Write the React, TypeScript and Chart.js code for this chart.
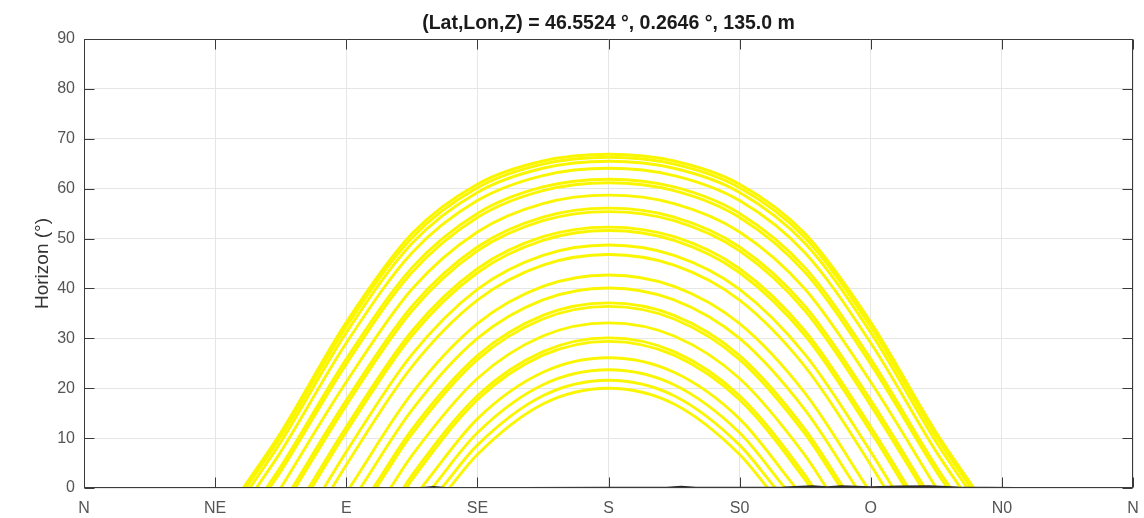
import React, { useEffect, useRef } from 'react';
import { Chart, registerables } from 'chart.js';

Chart.register(...registerables);

const TITLE = '(Lat,Lon,Z) = 46.5524 °, 0.2646 °, 135.0 m';
const Y_TITLE = 'Horizon (°)';
const X_TICK_LABELS = ['N', 'NE', 'E', 'SE', 'S', 'S0', 'O', 'N0', 'N'];

// azimuths (deg from North) at which altitudes are read
const AZIMUTH_GRID = [67.5, 90, 112.5, 135, 157.5, 180, 202.5, 225, 247.5, 270, 292.5];

// azimuth where each path meets the horizon (sunrise / sunset)
const SUNRISE_AZ = [54.66, 55.62, 56.91, 59.15, 62.6, 63.68, 67.51, 71.43, 72.48, 77.07, 78.1, 82.35, 85.13, 91.09, 94.87, 99.26, 100.28, 105.14, 109.62, 110.67, 115.7, 119.43, 122.76, 125.34];
const SUNSET_AZ = [305.34, 304.38, 303.09, 300.85, 297.4, 296.32, 292.49, 288.57, 287.52, 282.93, 281.9, 277.65, 274.87, 268.91, 265.13, 260.74, 259.72, 254.86, 250.38, 249.33, 244.3, 240.57, 237.24, 234.66];

// sun altitude (deg) at each AZIMUTH_GRID value, null = below horizon
const PATH_01 = [11.08, 33.22, 50.94, 60.89, 65.54, 66.89, 65.54, 60.89, 50.94, 33.22, 11.08];
const PATH_02 = [10.26, 32.33, 50.12, 60.19, 64.92, 66.3, 64.92, 60.19, 50.12, 32.33, 10.26];
const PATH_03 = [9.16, 31.14, 49.02, 59.25, 64.09, 65.5, 64.09, 59.25, 49.02, 31.14, 9.16];
const PATH_04 = [7.24, 29.06, 47.1, 57.61, 62.63, 64.1, 62.63, 57.61, 47.1, 29.06, 7.24];
const PATH_05 = [4.26, 25.84, 44.12, 55.04, 60.34, 61.9, 60.34, 55.04, 44.12, 25.84, 4.26];
const PATH_06 = [3.32, 24.83, 43.18, 54.23, 59.61, 61.2, 59.61, 54.23, 43.18, 24.83, 3.32];
const PATH_07 = [null, 21.24, 39.84, 51.33, 57.01, 58.7, 57.01, 51.33, 39.84, 21.24, null];
const PATH_08 = [null, 17.56, 36.4, 48.32, 54.31, 56.1, 54.31, 48.32, 36.4, 17.56, null];
const PATH_09 = [null, 16.57, 35.48, 47.52, 53.58, 55.4, 53.58, 47.52, 35.48, 16.57, null];
const PATH_10 = [null, 12.23, 31.42, 43.95, 50.37, 52.3, 50.37, 43.95, 31.42, 12.23, null];
const PATH_11 = [null, 11.26, 30.51, 43.15, 49.64, 51.6, 49.64, 43.15, 30.51, 11.26, null];
const PATH_12 = [null, 7.24, 26.73, 39.82, 46.63, 48.7, 46.63, 39.82, 26.73, 7.24, null];
const PATH_13 = [null, 4.62, 24.27, 37.64, 44.66, 46.8, 44.66, 37.64, 24.27, 4.62, null];
const PATH_14 = [null, null, 18.96, 32.95, 40.41, 42.7, 40.41, 32.95, 18.96, null, null];
const PATH_15 = [null, null, 15.59, 29.98, 37.72, 40.1, 37.72, 29.98, 15.59, null, null];
const PATH_16 = [null, null, 11.7, 26.54, 34.61, 37.1, 34.61, 26.54, 11.7, null, null];
const PATH_17 = [null, null, 10.78, 25.74, 33.88, 36.4, 33.88, 25.74, 10.78, null, null];
const PATH_18 = [null, null, 6.48, 21.94, 30.46, 33.1, 30.46, 21.94, 6.48, null, null];
const PATH_19 = [null, null, 2.53, 18.49, 27.34, 30.1, 27.34, 18.49, 2.53, null, null];
const PATH_20 = [null, null, 1.61, 17.68, 26.62, 29.4, 26.62, 17.68, 1.61, null, null];
const PATH_21 = [null, null, null, 13.86, 23.19, 26.1, 23.19, 13.86, null, null, null];
const PATH_22 = [null, null, null, 11.06, 20.69, 23.7, 20.69, 11.06, null, null, null];
const PATH_23 = [null, null, null, 8.6, 18.5, 21.6, 18.5, 8.6, null, null, null];
const PATH_24 = [null, null, null, 6.73, 16.84, 20.0, 16.84, 6.73, null, null, null];

const SUN_PATHS = [
  PATH_01, PATH_02, PATH_03, PATH_04, PATH_05, PATH_06, PATH_07, PATH_08,
  PATH_09, PATH_10, PATH_11, PATH_12, PATH_13, PATH_14, PATH_15, PATH_16,
  PATH_17, PATH_18, PATH_19, PATH_20, PATH_21, PATH_22, PATH_23, PATH_24,
];

// local horizon profile (deg)
const HORIZON_AZ = [0, 30, 60, 90, 115, 120, 125, 150, 180, 200, 205, 210, 240, 250, 255, 260, 270, 280, 290, 300, 330, 360];
const HORIZON_ALT = [0, 0, 0, 0, 0, 0.25, 0, 0.05, 0.1, 0.1, 0.3, 0.1, 0.15, 0.4, 0.2, 0.4, 0.2, 0.35, 0.4, 0.15, 0, 0];

const FONT = "'Liberation Sans', Arial, Helvetica, sans-serif";

const framePlugin = {
  id: 'framePlugin',
  afterDraw(chart: any) {
    const { ctx, chartArea: a, scales } = chart;
    ctx.save();
    ctx.strokeStyle = '#3a3a3a';
    ctx.lineWidth = 1;
    const L = Math.round(a.left) + 0.5;
    const R = Math.round(a.right) - 0.5;
    const T = Math.round(a.top) + 0.5;
    const B = Math.round(a.bottom) - 0.5;
    ctx.beginPath();
    ctx.rect(L, T, R - L, B - T);
    const tl = 10;
    scales.x.ticks.forEach((t: any) => {
      const px = Math.round(scales.x.getPixelForValue(t.value)) + 0.5;
      ctx.moveTo(px, B);
      ctx.lineTo(px, B - tl);
      ctx.moveTo(px, T);
      ctx.lineTo(px, T + tl);
    });
    scales.y.ticks.forEach((t: any) => {
      const py = Math.round(scales.y.getPixelForValue(t.value)) + 0.5;
      ctx.moveTo(L, py);
      ctx.lineTo(L + tl, py);
      ctx.moveTo(R, py);
      ctx.lineTo(R - tl, py);
    });
    ctx.stroke();
    ctx.font = `bold 19.5px ${FONT}`;
    ctx.fillStyle = '#1a1a1a';
    ctx.textAlign = 'center';
    ctx.textBaseline = 'alphabetic';
    ctx.fillText(TITLE, (a.left + a.right) / 2, 29);
    ctx.restore();
  },
};

export default function App() {
  const canvasRef = useRef<HTMLCanvasElement | null>(null);

  useEffect(() => {
    if (!canvasRef.current) return;
    const pathSets = SUN_PATHS.map((alts, i) => {
      const pts: { x: number; y: number }[] = [{ x: SUNRISE_AZ[i], y: 0 }];
      AZIMUTH_GRID.forEach((az, j) => {
        const v = alts[j];
        if (v !== null && v !== undefined) pts.push({ x: az, y: v });
      });
      pts.push({ x: SUNSET_AZ[i], y: 0 });
      return {
        label: `path ${i + 1}`,
        data: pts,
        borderColor: 'rgb(250,246,0)',
        borderWidth: 2.9,
        pointRadius: 0,
        cubicInterpolationMode: 'monotone' as const,
        fill: false,
        order: 1,
      };
    });
    const horizonSet = {
      label: 'horizon',
      data: HORIZON_AZ.map((az, i) => ({ x: az, y: HORIZON_ALT[i] })),
      borderColor: '#2a2a2a',
      borderWidth: 1.3,
      pointRadius: 0,
      tension: 0,
      fill: false,
      order: 0,
    };

    const chart = new Chart(canvasRef.current, {
      type: 'line',
      data: { datasets: [horizonSet, ...pathSets] as any },
      options: {
        animation: false,
        responsive: true,
        maintainAspectRatio: false,
        layout: { padding: { left: 0, right: 11, top: 39, bottom: 0 } },
        plugins: {
          legend: { display: false },
          tooltip: { enabled: false },
          title: { display: false },
        },
        scales: {
          x: {
            type: 'linear',
            min: 0,
            max: 360,
            ticks: {
              stepSize: 45,
              padding: 11,
              color: '#555',
              font: { family: FONT, size: 16 },
              maxRotation: 0,
              autoSkip: false,
              callback: (v: any) => X_TICK_LABELS[Math.round(Number(v) / 45)] ?? '',
            },
            grid: { color: '#e6e6e6', drawTicks: false },
            border: { display: false },
            afterFit: (s: any) => {
              s.height = 30;
              s.paddingRight = 6;
              s.paddingLeft = 6;
            },
          },
          y: {
            type: 'linear',
            min: 0,
            max: 90,
            ticks: {
              stepSize: 10,
              padding: 9,
              color: '#555',
              font: { family: FONT, size: 16 },
            },
            grid: { color: '#e6e6e6', drawTicks: false },
            border: { display: false },
            title: {
              display: true,
              text: Y_TITLE,
              color: '#333',
              font: { family: FONT, size: 19 },
              padding: { top: 31, bottom: 0 },
            },
            afterFit: (s: any) => { s.width = 84; },
          },
        },
      },
      plugins: [framePlugin],
    });
    return () => chart.destroy();
  }, []);

  return (
    <div style={{ position: 'fixed', left: 0, top: 0, width: 1144, height: 518, background: '#fff' }}>
      <canvas ref={canvasRef} />
    </div>
  );
}
